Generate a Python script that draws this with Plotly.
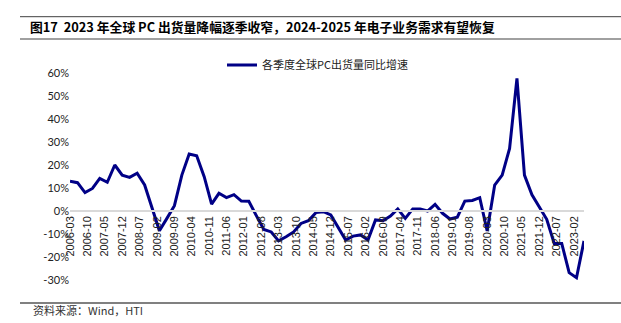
import pandas as pd
import plotly.graph_objects as go

# Quarterly global PC shipments, year-over-year growth (%)
quarters = pd.date_range("2006-03-01", "2023-06-01", freq="3MS")
yoy_growth = [
    13.0, 12.3, 8.0, 9.8,
    14.2, 12.5, 20.0, 15.6,
    14.6, 16.4, 11.3, 1.0,
    -8.6, -3.2, 2.3, 15.6,
    24.8, 24.0, 14.9, 3.0,
    7.7, 5.8, 7.1, 4.3,
    4.2, -2.0, -8.0, -9.1,
    -13.0, -11.2, -9.1, -5.4,
    -4.2, -0.7, -0.3, -1.7,
    -7.1, -12.6, -10.9, -10.4,
    -12.6, -3.9, -4.2, -2.2,
    0.9, -3.2, 0.9, 0.9,
    0.0, 2.9, -1.0, -3.5,
    -2.7, 4.3, 4.6, 5.8,
    -8.7, 11.3, 15.6, 27.2,
    57.7, 15.6, 7.0, 1.9,
    -3.6, -14.1, -14.1, -26.8,
    -29.0, -13.0,
]
series_name = "各季度全球PC出货量同比增速"
title_text = "图17  2023 年全球 PC 出货量降幅逐季收窄，2024-2025 年电子业务需求有望恢复"
source_text = "资料来源：Wind，HTI"
y_ticks = [-30, -20, -10, 0, 10, 20, 30, 40, 50, 60]

W, H = 621, 323
ml, mr, mt, mb = 70, 37, 73, 43
pw, ph = W - ml - mr, H - mt - mb
y_min, y_max = -30, 60


def px_to_paper_x(px):
    return (px - ml) / pw


def px_to_paper_y(py):
    return (H - mb - py) / ph


fig = go.Figure()
fig.add_trace(go.Scatter(
    x=quarters, y=yoy_growth, mode="lines", name=series_name,
    line=dict(color="#000086", width=3),
))

fig.update_layout(
    width=W, height=H,
    margin=dict(l=ml, r=mr, t=mt, b=mb, autoexpand=False),
    paper_bgcolor="white", plot_bgcolor="white",
    showlegend=True,
    legend=dict(
        x=px_to_paper_x(222), y=px_to_paper_y(65), xanchor="left", yanchor="middle",
        orientation="h", font=dict(family="Noto Sans CJK SC", size=11, color="#222"),
        bgcolor="rgba(0,0,0,0)",
    ),
    title=dict(
        text=title_text, xref="container", yref="container",
        x=30 / W, xanchor="left", y=1 - 27.5 / H, yanchor="middle",
        font=dict(family="Noto Sans CJK SC", size=12.8, color="black", weight="bold"),
    ),
    xaxis=dict(
        type="date", range=[quarters[0], quarters[-1]],
        tick0="2006-03-01", dtick="M7", tickformat="%Y-%m", tickangle=-90,
        anchor="free", position=(0 - y_min) / (y_max - y_min),
        showline=True, linecolor="#d9d9d9", linewidth=1.5,
        showgrid=False, ticks="", zeroline=False,
        tickfont=dict(family="Liberation Sans", size=11, color="#222"),
    ),
    yaxis=dict(
        range=[y_min, y_max], tickvals=y_ticks,
        ticktext=[f"{v}%" for v in y_ticks],
        showgrid=False, zeroline=False, showline=False, ticks="",
        tickfont=dict(family="Lato", size=11, color="#222"),
    ),
    shapes=[
        dict(type="line", xref="paper", yref="paper",
             x0=px_to_paper_x(20), x1=px_to_paper_x(621),
             y0=px_to_paper_y(16.7), y1=px_to_paper_y(16.7),
             line=dict(color="#404040", width=1)),
        dict(type="line", xref="paper", yref="paper",
             x0=px_to_paper_x(20), x1=px_to_paper_x(621),
             y0=px_to_paper_y(39), y1=px_to_paper_y(39),
             line=dict(color="#808080", width=1.5)),
        dict(type="line", xref="paper", yref="paper",
             x0=px_to_paper_x(20), x1=px_to_paper_x(621),
             y0=px_to_paper_y(303), y1=px_to_paper_y(303),
             line=dict(color="#808080", width=2)),
    ],
    annotations=[
        dict(text=source_text, xref="paper", yref="paper",
             x=px_to_paper_x(31), y=px_to_paper_y(310), xanchor="left", yanchor="middle",
             showarrow=False,
             font=dict(family="Noto Sans CJK SC", size=11, color="#333")),
    ],
)

fig.write_html("out.html")
